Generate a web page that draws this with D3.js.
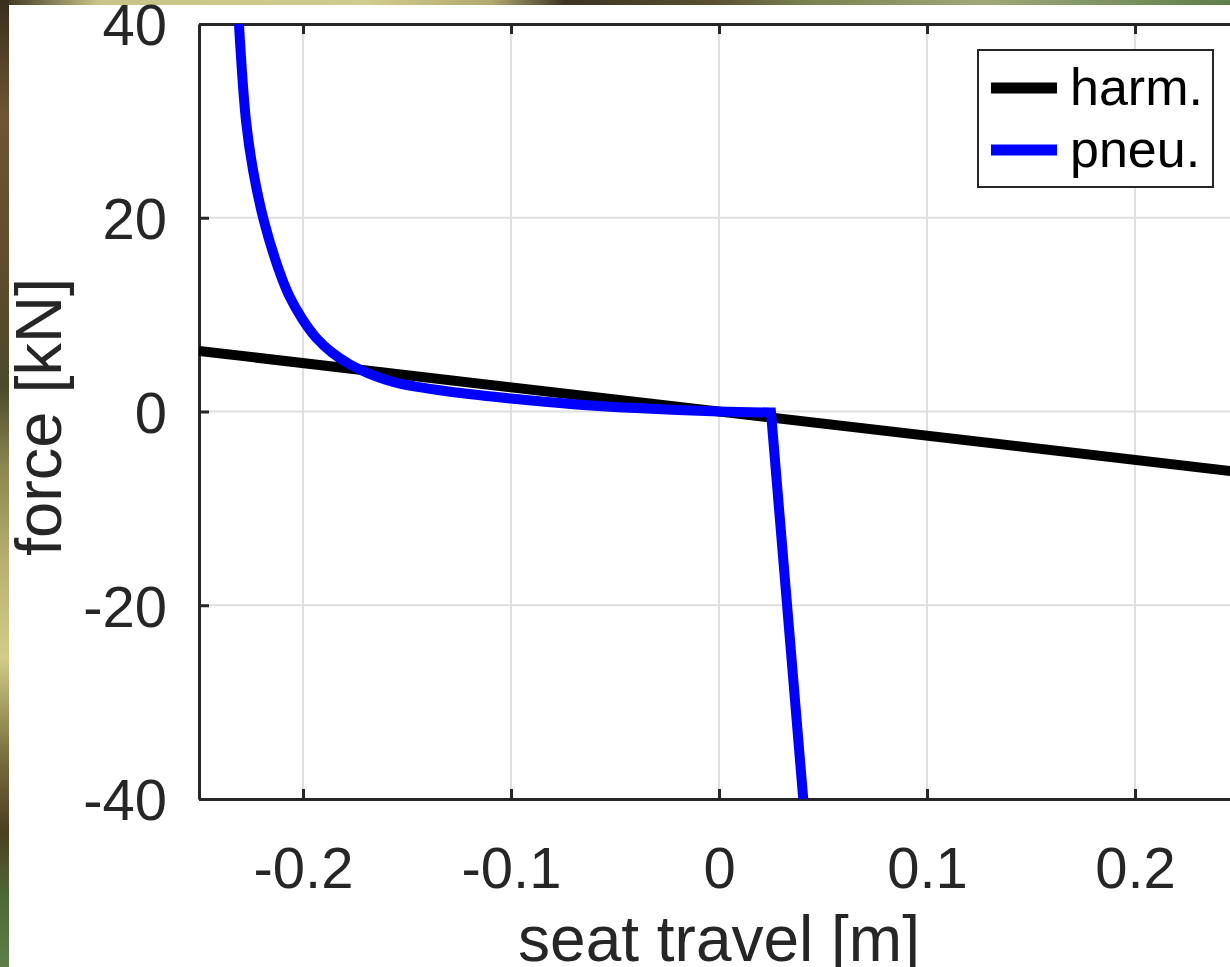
<!DOCTYPE html>
<html>
<head>
<meta charset="utf-8">
<script src="https://cdn.jsdelivr.net/npm/d3@7"></script>
<style>
  html, body { margin: 0; padding: 0; overflow: hidden; }
  body { width: 1230px; height: 967px; }
  svg { display: block; font-family: "Liberation Sans", Arial, Helvetica, sans-serif; }
</style>
</head>
<body>
<div class="canvas"></div>
<script>
// data (seat travel in m, force in kN)
const harmX = [-0.25, 0.25];
const harmF = [6.25, -6.25];

const pneuX = [-0.2308, -0.2274, -0.2240, -0.2188, -0.2115, -0.2063, -0.2005, -0.1938, -0.1861, -0.1774,
  -0.1683, -0.1553, -0.1298, -0.10, -0.07, -0.04, 0, 0.025, 0.0405];
const pneuF = [40, 30.0, 24.9, 19.7, 14.55, 11.8, 9.6, 7.64, 6.09, 4.85,
  3.92, 2.99, 2.06, 1.34, 0.75, 0.35, 0, -0.1, -40];

const xTicks = [-0.2, -0.1, 0, 0.1, 0.2];
const yTicks = [-40, -20, 0, 20, 40];
const seriesNames = ['harm.', 'pneu.'];
const seriesColours = ['#000000', '#0000ff'];

const dims = { left: 199, top: 24, right: 1239, bottom: 799 };
const axisCol = '#262626';

const svg = d3.select('.canvas')
  .append('svg')
  .attr('width', 1230)
  .attr('height', 967);

// backdrop strips (camouflage peeking out at the edges)
const defs = svg.append('defs');
const gl = defs.append('linearGradient').attr('id', 'leftStrip')
  .attr('x1', 0).attr('y1', 0).attr('x2', 0).attr('y2', 1);
[['0', '#3a2e1c'], ['0.12', '#6e5534'], ['0.3', '#5e4a2c'], ['0.4', '#4a4a2c'], ['0.48', '#8a8450'],
 ['0.58', '#b8b070'], ['0.68', '#d2cc88'], ['0.78', '#7a7040'], ['0.86', '#4e3e22'], ['0.93', '#4f6a38'], ['1', '#5e7e48']]
  .forEach(s => gl.append('stop').attr('offset', s[0]).attr('stop-color', s[1]));
const gt = defs.append('linearGradient').attr('id', 'topStrip')
  .attr('x1', 0).attr('y1', 0).attr('x2', 1).attr('y2', 0);
[['0', '#3a2e1c'], ['0.08', '#c8c488'], ['0.3', '#d0cc8c'], ['0.4', '#b0a870'], ['0.46', '#3a3420'],
 ['0.58', '#5a5030'], ['0.66', '#7a8450'], ['0.8', '#a0a878'], ['0.9', '#7e9460'], ['1', '#5e7e48']]
  .forEach(s => gt.append('stop').attr('offset', s[0]).attr('stop-color', s[1]));

svg.append('rect').attr('x', 0).attr('y', 0).attr('width', 1230).attr('height', 5).attr('fill', 'url(#topStrip)');
svg.append('rect').attr('x', 0).attr('y', 0).attr('width', 9).attr('height', 967).attr('fill', 'url(#leftStrip)');
svg.append('rect').attr('x', 9).attr('y', 5).attr('width', 1221).attr('height', 962).attr('fill', '#fff');

defs.append('clipPath').attr('id', 'plotClip')
  .append('rect')
  .attr('x', dims.left).attr('y', dims.top)
  .attr('width', dims.right - dims.left).attr('height', dims.bottom - dims.top);

// scales
const x = d3.scaleLinear().domain([-0.25, 0.25]).range([dims.left, dims.right]);
const y = d3.scaleLinear().domain([-40, 40]).range([dims.bottom, dims.top]);

// plain hyphen minus like the original
const fmt = d => String(d).replace('\u2212', '-');

// grid
const grid = svg.append('g');
grid.selectAll('line.gx').data(xTicks).enter().append('line')
  .attr('x1', d => x(d)).attr('x2', d => x(d))
  .attr('y1', dims.top).attr('y2', dims.bottom)
  .attr('stroke', '#dfdfdf').attr('stroke-width', 2);
grid.selectAll('line.gy').data(yTicks).enter().append('line')
  .attr('y1', d => y(d)).attr('y2', d => y(d))
  .attr('x1', dims.left).attr('x2', dims.right)
  .attr('stroke', '#dfdfdf').attr('stroke-width', 2);

// axes with inward ticks
const tickLen = 10;
const xAxis = svg.append('g')
  .attr('transform', `translate(0, ${dims.bottom})`)
  .call(d3.axisBottom(x).tickValues(xTicks).tickSizeInner(-tickLen).tickSizeOuter(0).tickPadding(48)
    .tickFormat(fmt));
const xAxisTop = svg.append('g')
  .attr('transform', `translate(0, ${dims.top})`)
  .call(d3.axisTop(x).tickValues(xTicks).tickSizeInner(-tickLen).tickSizeOuter(0).tickFormat(''));
const yAxis = svg.append('g')
  .attr('transform', `translate(${dims.left}, 0)`)
  .call(d3.axisLeft(y).tickValues(yTicks).tickSizeInner(-tickLen).tickSizeOuter(0).tickPadding(32)
    .tickFormat(fmt));

[xAxis, xAxisTop, yAxis].forEach(a => {
  a.select('.domain').attr('stroke', axisCol).attr('stroke-width', 3);
  a.selectAll('.tick line').attr('stroke', axisCol).attr('stroke-width', 3);
  a.selectAll('.tick text').attr('fill', axisCol).style('font-size', '58px')
    .style('font-family', '"Liberation Sans", Arial, sans-serif');
});
yAxis.selectAll('.tick text').attr('dy', '0.36em');
xAxis.selectAll('.tick text').attr('dy', '0.71em');

// series lines
const plot = svg.append('g').attr('clip-path', 'url(#plotClip)');
const line = d3.line().x(d => x(d[0])).y(d => y(d[1]));
const lineSmooth = d3.line().x(d => x(d[0])).y(d => y(d[1])).curve(d3.curveCatmullRom.alpha(0.5));

plot.append('path')
  .datum(harmX.map((v, i) => [v, harmF[i]]))
  .attr('d', line)
  .attr('fill', 'none')
  .attr('stroke', seriesColours[0])
  .attr('stroke-width', 10);

// smooth compression branch, then the straight drop after the knee
const pneuPts = pneuX.map((v, i) => [v, pneuF[i]]);
const knee = pneuPts.slice(0, -1);
const tail = pneuPts[pneuPts.length - 1];
plot.append('path')
  .attr('d', lineSmooth(knee) + `L${x(tail[0])},${y(tail[1])}`)
  .attr('fill', 'none')
  .attr('stroke', seriesColours[1])
  .attr('stroke-width', 10)
  .attr('stroke-linejoin', 'miter');

// axis labels
svg.append('text')
  .attr('x', (dims.left + dims.right) / 2).attr('y', 961)
  .attr('text-anchor', 'middle')
  .attr('fill', axisCol)
  .style('font-size', '64px')
  .text('seat travel [m]');

svg.append('text')
  .attr('transform', 'translate(61, 417) rotate(-90)')
  .attr('text-anchor', 'middle')
  .attr('fill', axisCol)
  .style('font-size', '65px')
  .text('force [kN]');

// legend
const legendGroup = svg.append('g');
legendGroup.append('rect')
  .attr('x', 978).attr('y', 50).attr('width', 235).attr('height', 137)
  .attr('fill', '#fff').attr('stroke', axisCol).attr('stroke-width', 2);

const rows = legendGroup.selectAll('g.row')
  .data(seriesNames)
  .enter().append('g')
  .attr('transform', (d, i) => `translate(0, ${88 + i * 62})`);
rows.append('line')
  .attr('x1', 991).attr('x2', 1057).attr('y1', 0).attr('y2', 0)
  .attr('stroke', (d, i) => seriesColours[i]).attr('stroke-width', 11);
rows.append('text')
  .attr('x', 1070).attr('y', 0).attr('dy', '0.33em')
  .attr('fill', '#000')
  .style('font-size', '52px')
  .text(d => d);
</script>
</body>
</html>
